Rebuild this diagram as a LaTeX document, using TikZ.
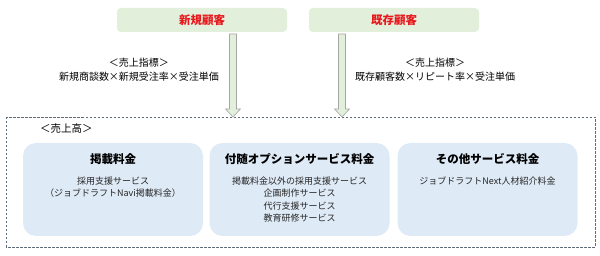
\documentclass[tikz,border=0pt]{standalone}
\usepackage{fontspec}
\setmainfont{Noto Sans CJK JP}
\usetikzlibrary{calc}
\definecolor{topgreen}{HTML}{E2EFDA}
\definecolor{boxblue}{HTML}{DEEAF6}
\definecolor{redtext}{HTML}{E8191E}
\definecolor{arrowline}{HTML}{A6A6A6}
\definecolor{frameline}{HTML}{5F6B78}
\tikzset{
  customer/.style={fill=topgreen, rounded corners=4pt, minimum width=170pt, minimum height=24pt, inner sep=0pt, font=\fontsize{11.5}{12}\selectfont\bfseries, text=redtext},
  revenue/.style={fill=boxblue, rounded corners=13pt, minimum width=180pt, minimum height=93pt, inner sep=0pt},
  revtitle/.style={font=\fontsize{11.5}{12}\selectfont\bfseries, inner sep=0pt},
  revbody/.style={font=\fontsize{9}{12.3}\selectfont, align=center, inner sep=0pt, text=black!85},
  indicator/.style={font=\fontsize{10}{14}\selectfont, align=center, inner sep=0pt},
  blockarrow/.style={fill=topgreen, draw=arrowline, line width=0.6pt, line join=miter}
}
\newcommand{\downarrowblock}[2]{%
  \filldraw[blockarrow] ($(#1)+(-3.5,0)$) -- ($(#2)+(-3.5,-8)$) -- ($(#2)+(-7.5,-8)$) -- (#2)
    -- ($(#2)+(7.5,-8)$) -- ($(#2)+(3.5,-8)$) -- ($(#1)+(3.5,0)$) -- cycle;}
\begin{document}
\begin{tikzpicture}[x=1pt, y=-1pt]
\useasboundingbox (0,0) rectangle (600,256);
% customers
\node[customer] (new) at (202,20) {新規顧客};
\node[customer] (existing) at (394,20) {既存顧客};
% indicators
\node[indicator] (newkpi) at (139,70) {＜売上指標＞\\新規商談数×新規受注率×受注単価};
\node[indicator] (existkpi) at (435,70) {＜売上指標＞\\既存顧客数×リピート率×受注単価};
% sales frame
\draw[frameline, line width=0.7pt, dash pattern=on 2.5pt off 1.5pt] (6,117) rectangle (595,247);
\node[font=\fontsize{10.5}{12}\selectfont, anchor=west, inner sep=0pt] (sales) at (40,129) {＜売上高＞};
% arrows
\coordinate (newfrom) at (233,34);
\coordinate (newto) at (233,117);
\coordinate (existfrom) at (342,34);
\coordinate (existto) at (342,117);
\downarrowblock{newfrom}{newto}
\downarrowblock{existfrom}{existto}
% revenue boxes
\node[revenue] (listing) at (113,189.5) {};
\node[revenue] (option) at (299.5,189.5) {};
\node[revenue] (other) at (487.5,189.5) {};
\node[revtitle] (listingt) at ($(listing.north)+(0,16)$) {掲載料金};
\node[revtitle] (optiont) at ($(option.north)+(0,16)$) {付随オプションサービス料金};
\node[revtitle] (othert) at ($(other.north)+(0,16)$) {その他サービス料金};
\node[revbody, anchor=north] (listingb) at ($(listing.north)+(0,34)$) {採用支援サービス\\（ジョブドラフトNavi掲載料金）};
\node[revbody, anchor=north] (optionb) at ($(option.north)+(0,34)$) {掲載料金以外の採用支援サービス\\企画制作サービス\\代行支援サービス\\教育研修サービス};
\node[revbody, anchor=north] (otherb) at ($(other.north)+(0,34)$) {ジョブドラフトNext人材紹介料金};
\end{tikzpicture}
\end{document}
